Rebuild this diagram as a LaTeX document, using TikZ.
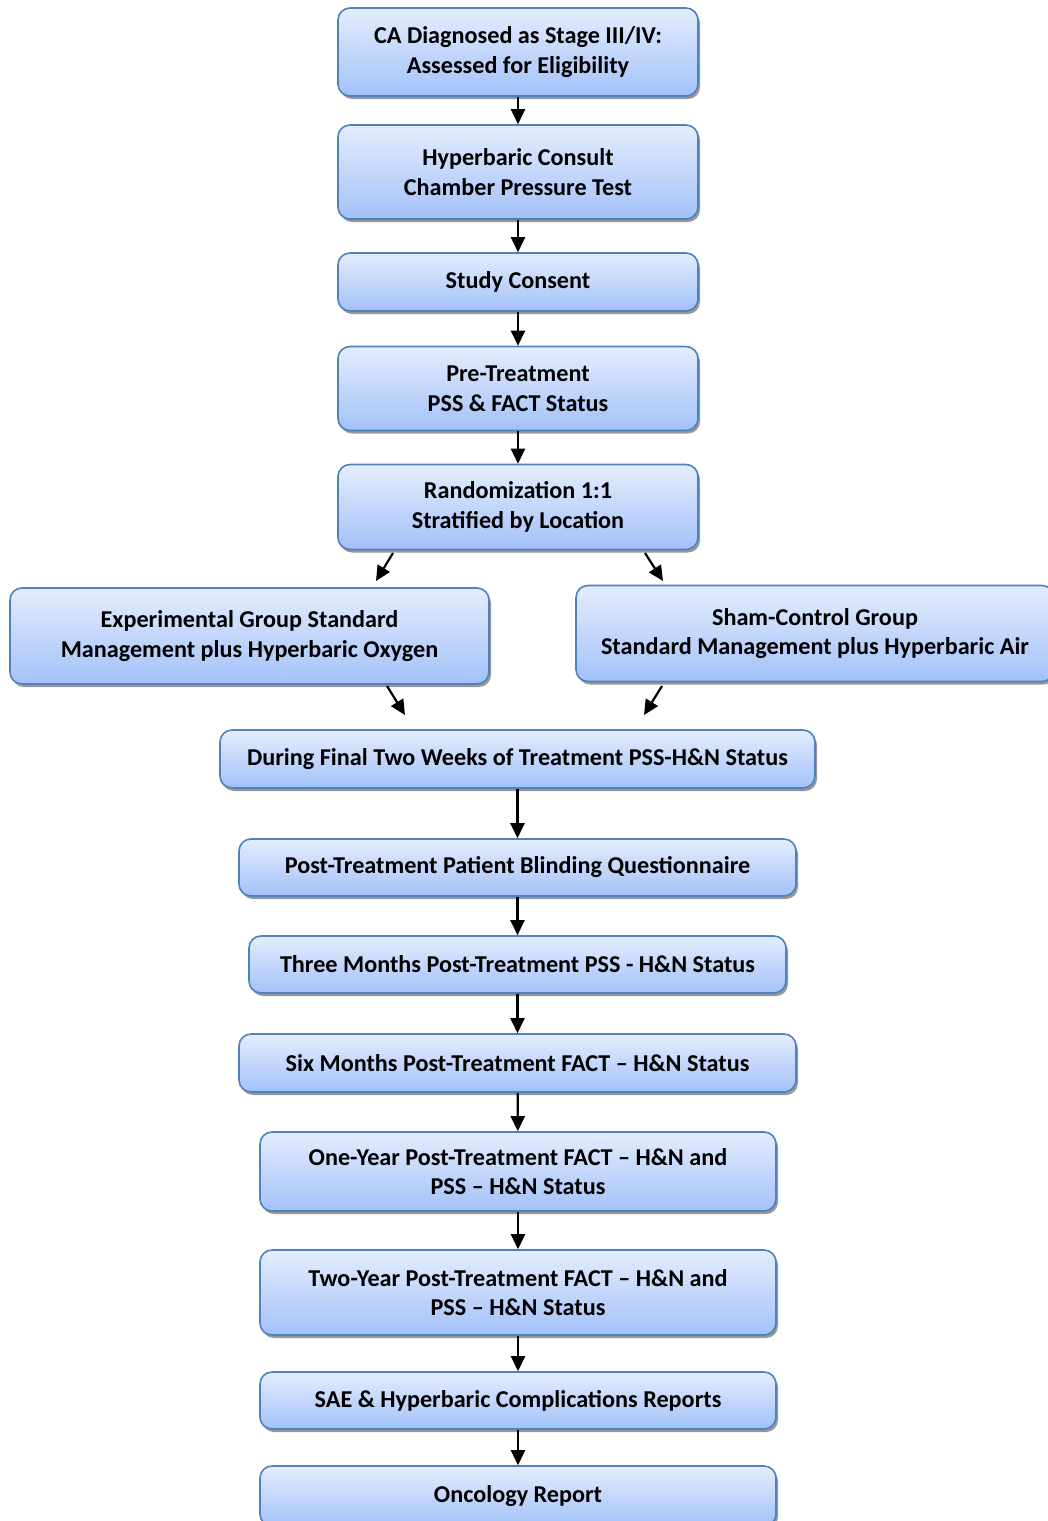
\documentclass[tikz,border=0pt]{standalone}
\usepackage{fontspec}
\setmainfont{Carlito}
\usetikzlibrary{arrows.meta,shadows}
\definecolor{boxtop}{RGB}{228,237,254}
\definecolor{boxbot}{RGB}{163,193,249}
\definecolor{boxline}{RGB}{79,129,189}
\tikzset{
  box/.style={draw=boxline, line width=1.6pt, rounded corners=12pt,
    top color=boxtop, bottom color=boxbot, align=center, inner sep=0pt,
    font=\bfseries\fontsize{24.2}{29.5}\selectfont,
    drop shadow={shadow xshift=2pt, shadow yshift=-3pt, fill=black!45, opacity=0.9}},
  arr/.style={-{Triangle[width=14pt,length=15pt]}, line width=2.2pt, black}
}
\begin{document}
\begin{tikzpicture}[x=1pt,y=-1pt]
\useasboundingbox (0,0) rectangle (1048,1521);
\node[box, minimum width=360, minimum height=88] (n1) at (518,52) {CA Diagnosed as Stage III/IV:\\Assessed for Eligibility};
\node[box, minimum width=360, minimum height=94] (n2) at (518,172) {Hyperbaric Consult\\Chamber Pressure Test};
\node[box, minimum width=360, minimum height=58] (n3) at (518,282) {Study Consent};
\node[box, minimum width=360, minimum height=84] (n4) at (518,388.5) {Pre-Treatment\\PSS \& FACT Status};
\node[box, minimum width=360, minimum height=85] (n5) at (518,507) {Randomization 1:1\\Stratified by Location};
\node[box, minimum width=479, minimum height=96] (n6) at (249.5,636) {Experimental Group Standard\\Management plus Hyperbaric Oxygen};
\node[box, minimum width=478, minimum height=96] (n7) at (815,633.5) {Sham-Control Group\\Standard Management plus Hyperbaric Air};
\node[box, minimum width=595, minimum height=58] (n8) at (517.5,759) {During Final Two Weeks of Treatment PSS-H\&N Status};
\node[box, minimum width=557, minimum height=57] (n9) at (517.5,867.5) {Post-Treatment Patient Blinding Questionnaire};
\node[box, minimum width=537, minimum height=57] (n10) at (517.5,964.5) {Three Months Post-Treatment PSS - H\&N Status};
\node[box, minimum width=557, minimum height=58] (n11) at (517.5,1063) {Six Months Post-Treatment FACT -- H\&N Status};
\node[box, minimum width=516, minimum height=79] (n12) at (518,1171.5) {One-Year Post-Treatment FACT -- H\&N and\\PSS -- H\&N Status};
\node[box, minimum width=516, minimum height=85] (n13) at (518,1292.5) {Two-Year Post-Treatment FACT -- H\&N and\\PSS -- H\&N Status};
\node[box, minimum width=516, minimum height=57] (n14) at (518,1400.5) {SAE \& Hyperbaric Complications Reports};
\node[box, minimum width=516, minimum height=60, text depth=0pt] (n15) at (518,1496) {\raisebox{4pt}{Oncology Report}};
\coordinate (d1a) at (393,553); \coordinate (d1b) at (376,581);
\coordinate (d2a) at (645,553); \coordinate (d2b) at (663,581);
\coordinate (d3a) at (387,686); \coordinate (d3b) at (405,715);
\coordinate (d4a) at (662,686); \coordinate (d4b) at (644,715);
\draw[arr] (n1) -- (n2);
\draw[arr] (n2) -- (n3);
\draw[arr] (n3) -- (n4);
\draw[arr] (n4) -- (n5);
\draw[arr] (d1a) -- (d1b);
\draw[arr] (d2a) -- (d2b);
\draw[arr] (d3a) -- (d3b);
\draw[arr] (d4a) -- (d4b);
\draw[arr] (n8) -- (n9);
\draw[arr] (n9) -- (n10);
\draw[arr] (n10) -- (n11);
\draw[arr] (n11) -- (n12);
\draw[arr] (n12) -- (n13);
\draw[arr] (n13) -- (n14);
\draw[arr] (n14) -- (n15);
\end{tikzpicture}
\end{document}
